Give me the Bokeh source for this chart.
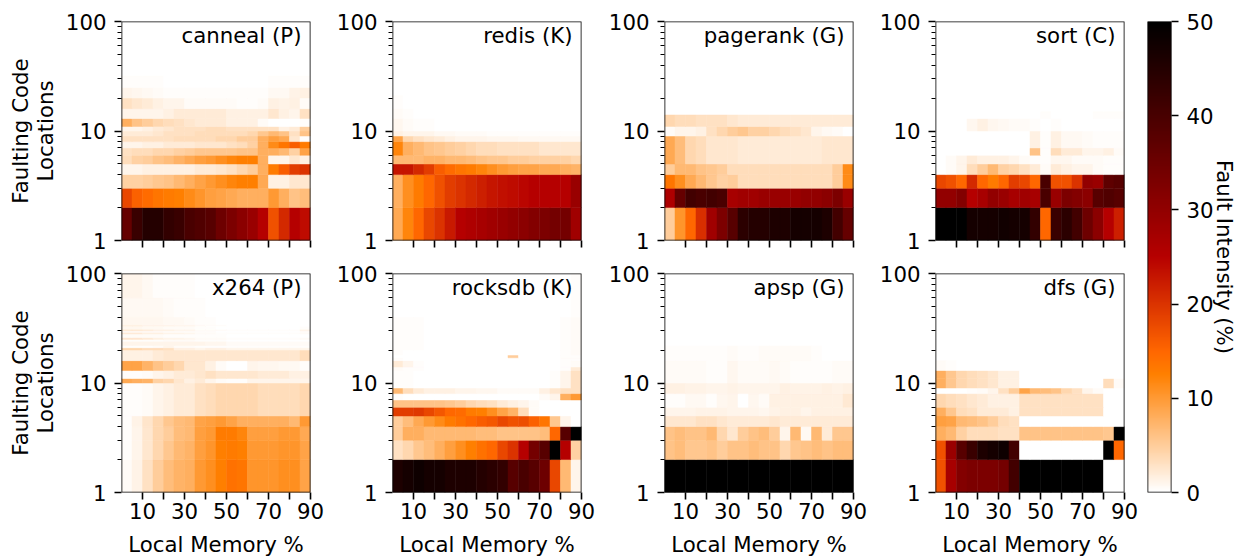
from bokeh.embed import file_html
from bokeh.resources import INLINE
from bokeh.layouts import column, row
from bokeh.models import (BoxAnnotation, ColumnDataSource, FixedTicker, Label, LinearColorMapper, Range1d)
from bokeh.plotting import figure
import numpy as np

cols = [5 * i for i in range(19)]
x_ticks = [10, 20, 30, 40, 50, 60, 70, 80, 90]
x_labels = {10: "10", 30: "30", 50: "50", 70: "70", 90: "90"}

canneal_edges = [1,2,3,4,5,6,7,8,9,10,11,13,16,20,25,32,40]
canneal_vals = [
 [36,42,45,45,43,42,40,39,38,35,33,31,29,25,17,21,25,24],
 [18,15.5,14.5,13.5,13,12.5,11.5,10.5,9.5,9,8.5,8,8,8,10,8,6,6.5],
 [4.5,4.5,5,5.5,6,7,8,9,10,11,12,12.5,12.5,8.5,1.5,1.5,2.5,2.5],
 [1,1,1.5,1.5,1.5,1.5,1.5,2,2,2.5,3,4,5,8,13,16,19,20],
 [3.5,4.5,5,6,6.5,7.5,8.5,9.5,10,11,12,12.5,12.5,8,1,1,2.5,1.5],
 [3,3.5,3.5,4,4,4.5,5,5.5,5.5,5.5,5.5,6,6,8,8,7,4.5,9],
 [1,1,1.5,1.5,2,2,2,2.5,2.5,2.5,3,3.5,4.5,8,11.5,13.5,16,13],
 [3,3,3,3,3,3.5,3.5,3.5,3.5,4,4,5,5,8,9.5,8.5,2.5,0.3],
 [2,2,2,2.5,3,3,3,3.5,3.5,3.5,3.5,3.5,4,5.5,7,6,3,6],
 [1,1,1.5,2,2.5,3,3,3,3.5,3.5,3,3,3,3,3,1.5,2,5],
 [8,6,5,4,3.5,3,2.5,2,2,2,1.5,1.5,1.5,0.5,0,0,0,0.3],
 [1,1,1,1,1.5,2,2,2,2,2,1.5,1.5,1.5,1.5,2.5,1.5,1,3],
 [3,2.5,2,1.5,1,1,0.5,0.5,0.5,0.5,0.5,0.3,0.3,0.5,1.5,1.2,1.5,0.5],
 [1,0.8,0.6,0.4,0.3,0.2,0.2,0.2,0.2,0.2,0.2,0.2,0.2,0.3,0.6,0.6,1.2,1.5],
 [0.3,0.3,0.2,0.2,0.1,0.1,0,0,0,0,0,0,0,0.1,0.2,0.3,0.3,0.3],
 [0.1,0.1,0,0,0,0,0,0,0,0,0,0,0,0,0.1,0.1,0.1,0.1],
]

redis_edges = [1,2,4,5,6,8,9,10,13,16,21]
redis_vals = [
 [8.5,12,15,18,20,22.5,25,26,27,28,29,30,31,32,33,34,34,28],
 [8,11,13,15,17,19,20,21,22,23,23.5,24,24.5,25,25,25,25,29],
 [23,23,21,19,16,14.5,13.5,13,12,11,10,9.5,9,9,8.5,8.5,8,7.5],
 [7,7,7,7.5,7.5,7,7,6.5,6,5.5,5.5,5,5,4.5,4.5,4.5,4.5,4],
 [12,8,7,6,5.5,5,4.5,4,3.5,3.5,3,3,3,3,2.5,2.5,2.5,2.5],
 [9,4,3,2.5,2,1.5,1,1,1,0.8,0.8,0.8,0.7,0.7,0.7,0.7,0.7,0.7],
 [1.5,1,1,1,0.7,0.7,0.5,0.5,0.5,0.3,0.3,0.3,0.3,0.3,0.3,0.3,0.3,0.3],
 [0.8,0.5,0.3,0.2,0.1,0.1,0,0,0,0,0,0,0,0,0,0,0,0],
 [0.4,0.2,0.1,0,0,0,0,0,0,0,0,0,0,0,0,0,0,0],
 [0.2,0.1,0,0,0,0,0,0,0,0,0,0,0,0,0,0,0,0],
]

pagerank_edges = [1,2,3,4,5,9,11,14]
pagerank_vals = [
 [5,10.5,15,20.5,28,33,38,44,45,45,46,46,47,47,47,46,41,36],
 [26,36,41,40,41,40,27,28,28,29,29,29,29,30,30,31,33,29],
 [13.5,11,8.5,7,5.5,4.5,5,3.5,3.5,3.5,3.5,3.5,3.5,3.5,3.5,3.5,5,11.5],
 [5,7,7,6,5.5,5,3.5,3.5,3.5,3.5,3.5,3.5,3.5,3.5,3.5,3.5,5,11.5],
 [8.5,6.5,4,3.5,2.5,2.5,2.5,2,2,2,2,2,2,2,2,2.5,2.5,2.5],
 [0.5,1,1,1.5,3,4,5,5.5,4.5,4.5,4,3.5,3,2.5,1,0.7,0.5,0],
 [4,3.5,3.5,3,3,3,2.5,2,2,2,2,2,2,2,2,2,2,2],
]

sort_edges = [1,2,3,4,5,6,7,10,13,15]
sort_vals = [
 [50,50,50,47,47,47,47.5,47,47,43,15,42,44,41,35,31,25,22],
 [30,30,32,25,27,30,29,27,28,27,40,29,33,32,31,38,39,38],
 [18,17,15,21,15,13,15,19,18,15,40,17,17,20,30,29,37,38],
 [0,0.5,1,3.5,5,7,4.5,4,3,2,0.5,2,1.5,1,1,0.5,0.3,0.3],
 [0,0.5,1,2,1.5,1.5,1.5,1,0.5,0.3,0.3,0.8,0.8,0.5,0.5,0.5,0.3,0.3],
 [0,0,0,0,0,0,0,0,0,6,0.3,3.5,2,2,1,1,1.5,0.5],
 [0,0,0,0,0,0,0,0,0,1.5,0.2,1.5,0.7,0.7,0.5,0.3,0.3,0.3],
 [0,0,0,0.8,1.5,0.8,0.6,0.5,0.5,0.3,0,0.3,0,0,0,0,0,0],
 [0,0,0,0,0,0,0,0,0,0,0.2,0.1,0,0.1,0.1,0.2,0.2,0.2],
]

x264_edges = [1,2,3,4,5,10,11,13,16,20,21,22,24,25,26,28,29,30,31,33,34,40,60,100]
x264_vals = [
 [0.5,1.2,3,5,6.5,7.5,8,10,11,12.5,14,13.5,10.5,10.5,10.5,11,11,9],
 [0.3,1,2.5,4,5.5,7,7.5,9.5,10.5,12.5,13,12.5,10,10,10,10.5,10.5,9],
 [0.3,1,2.5,4,5,6.5,7,9.5,10,13,13,12,9.5,9.5,9.5,10,10,8.5],
 [0.3,1.2,2.7,4,5.5,6.5,7,9,9.5,10,9,8,8,8,8,8,7,10],
 [0.2,0.3,0.5,1,1.5,2,2,3,3.5,4,4,4,4,3.5,3.5,3.5,3.5,4],
 [8.5,8,7.5,4.5,4,2.5,1.5,2,1,0.5,0.2,0.2,1,1,1,1,1,1],
 [0.3,0.3,0.5,1,1.5,2,2,2.5,3,2.5,2.5,2.5,2.5,2,2,2,1.5,1.5],
 [9,9,7.5,6,5,4,2.5,2.5,1.5,0.5,0,0,1,0.8,0.8,0.7,0.7,0.3],
 [1.5,1.5,1.5,2,2.5,2.5,2.5,2.5,2.5,2.5,2.5,2.5,2.5,2.5,2.5,2.5,2.5,3.5],
 [4,4,3.5,3.5,3,1.5,1.5,1,1.5,1.5,1,1,1,1,1,1,1,1],
 [0.3,0.3,0.3,0.5,1,0.5,0.5,0.3,0.3,0.3,0.3,0.3,0.3,0.3,0.3,0.3,0.3,0.3],
 [1,1,1,1,1,1,1,1,0.8,0.8,0.5,0.5,0.5,0.5,0.5,0.5,0.5,0.5],
 [0.2,0.2,0.2,0.3,0.5,0.5,0.5,0.3,0.2,0.2,0.1,0.1,0.1,0.1,0.1,0.1,0.1,0.1],
 [2.5,2.5,2,1.5,1,1,0.8,0.5,0.5,0.5,0.3,0.3,0.3,0.3,0.3,0.3,0.3,0.5],
 [0.5,0.5,0.4,0.4,0.3,0.3,0.2,0.2,0.2,0.2,0.1,0.1,0.1,0.1,0.1,0.1,0.1,0.1],
 [2,2,1.5,1.5,1,1,0.8,0.5,0.5,0.3,0.3,0.3,0.3,0.3,0.3,0.3,0.3,0.5],
 [0.5,0.5,0.4,0.4,0.3,0.3,0.2,0.2,0.2,0.1,0.1,0.1,0.1,0.1,0.1,0.1,0.1,0.2],
 [2.5,2.5,2,1.5,1.5,1,1,0.5,0.5,0.5,0.3,0.3,0.3,0.3,0.3,0.3,0.3,1.2],
 [0.8,0.8,0.6,0.6,0.5,0.5,0.4,0.3,0.2,0.1,0.1,0.1,0.1,0.1,0.1,0.1,0.1,0.2],
 [1.5,1.5,1,1,1,0.8,0.8,0.5,0.3,0.2,0.1,0.1,0.1,0.1,0.1,0.1,0.1,0.1],
 [0.8,0.8,0.8,0.8,0.6,0.6,0.4,0.3,0.2,0.1,0.1,0.1,0.1,0.1,0.1,0.1,0.1,0.1],
 [0.7,0.7,0.6,0.6,0.4,0.3,0.2,0.2,0.1,0,0,0,0,0,0,0,0,0],
 [1,1,0.7,0.3,0.3,0.2,0.2,0.1,0,0,0,0,0,0,0,0,0,0],
]

rocksdb_edges = [1,2,3,4,5,6,7,8,9,13,14,16,17,18,20,40,100]
rocksdb_vals = [
 [46,47,48,47,47,46,46,46,45,44,43,38,40,38,35,18,7,1],
 [3,4,5.5,6.5,8,9.5,11,12.5,14,15,18,20,25,34,38,50,25,4.5],
 [5,8,8,7,7,7,7,7,6.5,6.5,6,6,6,6,6.5,15,38,50],
 [5,6.5,8.5,10,11.5,13,14,15,16,16.5,18,17,17.5,15.5,13.5,5.5,1,0],
 [19,19,19.5,18,16.5,15,14.5,13,12.5,11,9,7.5,3.5,0.5,0,0,0,0],
 [6,6,6,6,6,5.5,5,4,3.5,3,2,1.5,1,0.5,0,0,0,0],
 [0.2,0.1,0,0,0,0,0,0,0,0,0,0,0,0,0.5,1,8,10],
 [7,3.5,2,1.5,1.5,1.5,1,1,0.8,0.8,0.5,0.5,0.5,0.5,1.5,2.5,3,3],
 [0.2,0.2,0.1,0.1,0.1,0.1,0,0,0,0,0,0,0,0,0,0.2,1,3],
 [0.5,0.3,0.2,0.1,0,0,0,0,0,0,0,0,0,0,0,0,0.3,2],
 [2,1,0.3,0,0,0,0,0,0,0,0,0,0,0,0,0,0.3,0.5],
 [0.2,0.1,0,0,0,0,0,0,0,0,0,0,0,0,0,0,0.2,0.3],
 [0,0,0,0,0,0,0,0,0,0,0,5,0,0,0,0,0.2,0.3],
 [0.2,0.1,0,0,0,0,0,0,0,0,0,0,0,0,0,0,0.2,0.4],
 [0.3,0.2,0.2,0.1,0.1,0,0,0,0,0,0,0,0,0,0,0.1,0.3,0.5],
 [0.1,0.1,0,0,0,0,0,0,0,0,0,0,0,0,0,0,0.1,0.2],
]

apsp_edges = [1,2,3,4,5,6,8,10,16,22,30]
apsp_vals = [
 [50,50,50,50,50,50,50,50,50,50,50,50,50,50,50,50,50,50],
 [6,6.5,5.5,5.5,6,5,6,6,6.5,6,6,4,5.5,6,6.5,6,6.5,6.5],
 [6,6.5,6,6,7,4,2.5,5,6,6.5,5,1,7,0.7,7,2,5.5,5.5],
 [2.5,2.5,2.5,3,3,2.5,2,2,2,2,2.5,2,2,2,2,2,2,2],
 [1,1,1,1.2,1.2,1.2,1,1,1,0.8,1.3,1.5,1.5,1,1.5,1.5,1.5,1.5],
 [0.2,0.2,0.7,0.7,0.2,0.8,1,0.1,0.8,0.5,1.5,1.5,1.5,1.5,1.5,1.5,1.5,2.2],
 [1.5,1.5,1.2,1.2,1,1,1.2,1,1,1,1,1.5,1.2,1.2,1.2,1.5,1.2,1.5],
 [0.4,0.4,0.4,0.4,0.3,0.3,0.8,0.4,0.4,0.4,0.6,0.5,0.3,0.3,0.2,0.3,0.4,0.4],
 [0.3,0.2,0.2,0.3,0.2,0.3,0.4,0.2,0.3,0.4,0.5,0.4,0.4,0.4,0.2,0.1,0.1,0.1],
 [0.05,0.05,0.05,0.05,0.05,0.05,0.1,0.05,0.05,0.05,0.05,0.05,0.05,0.05,0.05,0.05,0.05,0.05],
]

dfs_edges = [1,2,3,4,5,6,8,9,11,13,16]
dfs_vals = [
 [17,27,32,33,33,33,34,41,50,50,50,50,50,50,50,50,0,0],
 [17,29,38,42,46,47,48,41,0,0,0,0,0,0,0,0,50,15],
 [8,7,4.5,3.5,3.5,3.5,3,3,6,6,6,6,6,6,6,6,5.5,50],
 [9.5,9,7,6.5,6,5,3.5,3,0,0,0,0,0,0,0,0,0,0],
 [8,5.5,3.5,3,2,2,2,1.5,3,3,3,3,3,3,3,3,0,0],
 [4,3.5,3,2.5,2,1.5,1.5,1.5,3,3,3,3,3,3,3,3,0,0],
 [0,0,0,0.3,0.5,1,3,5,9,7,6.5,6,4,3,1,0.5,0,0],
 [8,5.5,4,3.5,3,2.5,1.5,1.5,0,0,0,0,0,0,0,0,3.5,0.5],
 [8,5.5,4,3.5,3,2.5,1.5,1.5,0,0,0,0,0,0,0,0,0,0],
 [0.5,0.2,0,0,0,0,0,0,0,0,0,0,0,0,0,0,0,0.1],
]

panels = [
    ("canneal (P)", canneal_edges, canneal_vals),
    ("redis (K)", redis_edges, redis_vals),
    ("pagerank (G)", pagerank_edges, pagerank_vals),
    ("sort (C)", sort_edges, sort_vals),
    ("x264 (P)", x264_edges, x264_vals),
    ("rocksdb (K)", rocksdb_edges, rocksdb_vals),
    ("apsp (G)", apsp_edges, apsp_vals),
    ("dfs (G)", dfs_edges, dfs_vals),
]

FONT = "DejaVu Sans"
FS = "21.3px"


def heat(x):
    r = min(x / 0.7, 1.0)
    g = max(2 * x - 1, 0.0)
    b = max(4 * x - 3, 0.0)
    return "#%02x%02x%02x" % (round(255 * r), round(255 * g), round(255 * b))


palette = [heat(1 - i / 255) for i in range(256)]
mapper = LinearColorMapper(palette=palette, low=0, high=50)


def style_axis(ax):
    ax.axis_line_color = None
    ax.major_tick_line_color = "black"
    ax.major_tick_line_width = 1.6
    ax.minor_tick_line_color = "black"
    ax.minor_tick_line_width = 1.2
    ax.major_tick_out = 7
    ax.major_tick_in = 0
    ax.minor_tick_out = 4
    ax.minor_tick_in = 0
    ax.major_label_text_font = FONT
    ax.major_label_text_font_size = FS
    ax.major_label_text_color = "black"
    ax.axis_label_text_font = FONT
    ax.axis_label_text_font_style = "normal"
    ax.axis_label_text_font_size = FS
    ax.axis_label_text_color = "black"


def panel(i):
    name, edges, vals = panels[i]
    col_i, row_i = i % 4, i // 4
    left = [121, 68, 69, 68][col_i]
    p = figure(
        output_backend="svg", toolbar_location=None, y_axis_type="log",
        x_range=Range1d(0, 90), y_range=Range1d(1, 100),
        frame_width=189, frame_height=219,
        min_border_left=left, min_border_right=14,
        min_border_top=21 if row_i == 0 else 13, min_border_bottom=20 if row_i == 0 else 64,
    )
    p.grid.visible = False
    p.outline_line_color = None
    p.background_fill_color = "white"

    rows = {"l": [], "r": [], "b": [], "t": [], "v": []}
    for k, rv in enumerate(vals):
        for j, v in enumerate(rv):
            rows["l"].append(cols[j])
            rows["r"].append(cols[j + 1])
            rows["b"].append(edges[k])
            rows["t"].append(edges[k + 1])
            rows["v"].append(v)
    color = {"field": "v", "transform": mapper}
    p.quad(left="l", right="r", bottom="b", top="t", source=ColumnDataSource(rows),
           fill_color=color, line_color=color, line_width=0.5)

    p.xaxis.ticker = FixedTicker(ticks=x_ticks)
    p.yaxis.ticker = FixedTicker(ticks=[1, 10, 100],
                                 minor_ticks=[2, 3, 4, 5, 6, 7, 8, 9, 20, 30, 40, 50, 60, 70, 80, 90])
    p.yaxis.major_label_overrides = {1: "1", 10: "10", 100: "100"}
    style_axis(p.xaxis[0])
    style_axis(p.yaxis[0])
    p.xaxis.major_label_standoff = 3
    p.yaxis.major_label_standoff = 8
    if row_i == 1:
        p.xaxis.major_label_overrides = {t: x_labels.get(t, "") for t in x_ticks}
        p.xaxis.axis_label = "Local Memory %"
        p.xaxis.axis_label_standoff = 10
    else:
        p.xaxis.major_label_overrides = {t: "" for t in x_ticks}
    if col_i == 0:
        p.yaxis.axis_label = "Faulting Code\nLocations"
        p.yaxis.axis_label_text_line_height = 1.0
        p.yaxis.axis_label_standoff = 5
    p.add_layout(BoxAnnotation(left=0, right=90, bottom=1, top=100, fill_alpha=0,
                               line_color="black", line_width=1.6, line_alpha=1))
    p.add_layout(Label(x=90, y=100, x_offset=-9, y_offset=-1, text=name, text_align="right",
                       text_baseline="top", text_font=FONT, text_font_size=FS, text_color="black"))
    return p


figs = [panel(i) for i in range(8)]

bar = figure(
    output_backend="svg", toolbar_location=None,
    x_range=Range1d(0, 1), y_range=Range1d(0, 50),
    frame_width=24, frame_height=471,
    min_border_left=9, min_border_right=65, min_border_top=21, min_border_bottom=64,
    y_axis_location="right",
)
bar.grid.visible = False
bar.xaxis.visible = False
bar.outline_line_color = None
bar.image(image=[np.linspace(0, 50, 256).reshape(256, 1)], x=0, y=0, dw=1, dh=50, color_mapper=mapper)
bar.add_layout(BoxAnnotation(left=0, right=1, bottom=0, top=50, fill_alpha=0,
                             line_color="black", line_width=1.6, line_alpha=1))
bar.yaxis.ticker = FixedTicker(ticks=[0, 10, 20, 30, 40, 50])
style_axis(bar.yaxis[0])
bar.yaxis.minor_tick_line_color = None
bar.yaxis.axis_label = "Fault Intensity (%)"
bar.yaxis.axis_label_standoff = -5
bar.yaxis.major_label_standoff = 8

layout = row(column(row(*figs[:4], spacing=0), row(*figs[4:], spacing=0), spacing=0), bar, spacing=0)
open("out.html", "w").write(file_html(layout, INLINE))
